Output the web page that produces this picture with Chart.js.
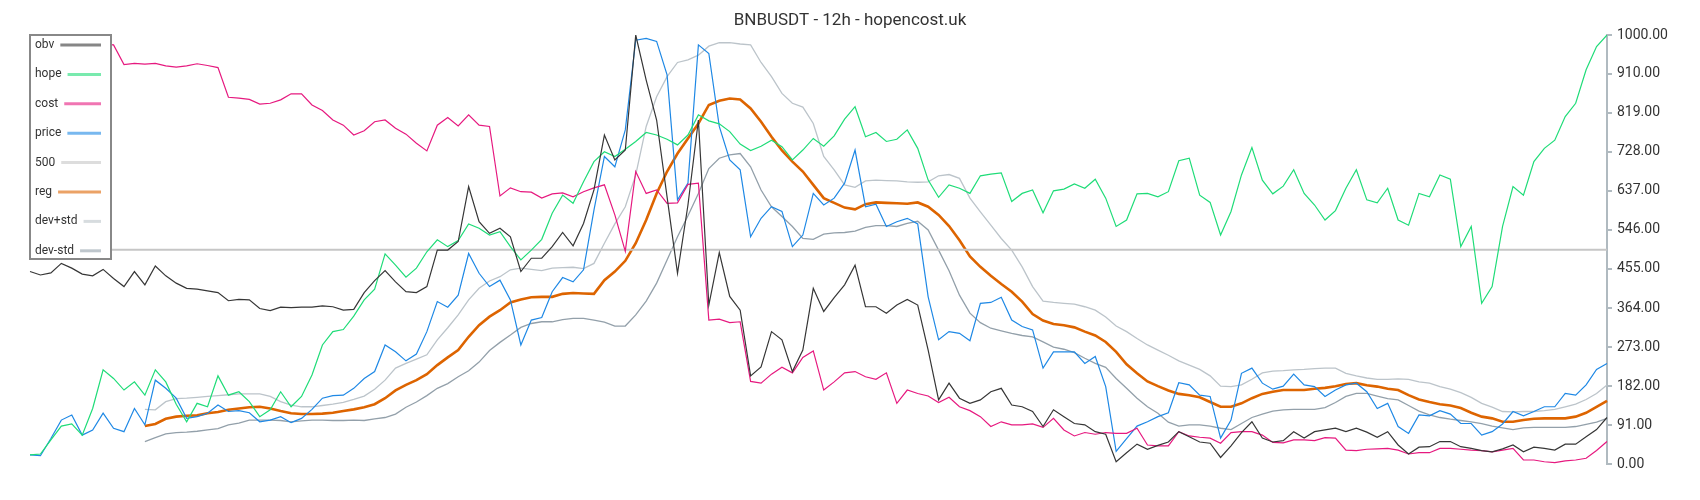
<!DOCTYPE html>
<html>
<head>
<meta charset="utf-8">
<title>BNBUSDT - 12h - hopencost.uk</title>
<script src="https://cdn.jsdelivr.net/npm/chart.js@4"></script>
<style>
  html, body { margin: 0; padding: 0; background: #fff; }
  #chartCanvas { display: block; }
</style>
</head>
<body>
<canvas id="chartCanvas" width="1700" height="500"></canvas>
<script>
// values, one sample per 12h step (152 steps)
var obv = [449,441,446,468,457,443,439,454,433,414,449,418,462,439,422,410,408,404,400,381,
  384,383,363,358,366,365,366,366,369,367,359,361,400,428,451,425,402,400,414,499,
  499,519,647,565,538,550,530,449,480,480,507,540,509,561,639,767,709,732,1000,895,
  802,623,445,604,802,371,493,391,359,206,227,309,290,216,266,410,356,388,418,464,
  367,367,352,371,384,371,266,150,189,154,142,150,169,177,138,134,123,88,127,111,
  95,92,76,70,6,27,47,35,44,52,76,64,52,49,16,43,74,99,61,52,
  55,76,61,76,80,84,76,84,75,63,76,45,24,40,41,53,53,41,37,32,
  29,36,45,29,40,37,33,47,47,64,81,109];

var hope = [22,24,57,89,94,68,130,220,200,173,192,161,220,192,140,99,142,134,206,161,
  169,146,111,127,169,134,158,208,278,309,314,345,383,408,490,464,436,457,495,523,
  507,521,560,550,534,542,507,476,499,524,585,627,608,658,705,728,717,734,752,773,
  767,757,744,767,814,800,793,775,746,731,741,755,740,709,732,759,741,765,804,833,
  763,773,752,757,779,736,662,622,651,643,631,672,676,679,612,631,639,586,637,641,
  653,643,664,620,554,569,630,631,623,635,707,713,627,610,534,589,674,738,662,630,
  648,686,631,604,569,591,643,686,616,609,643,569,557,631,623,674,664,507,554,375,
  414,554,647,627,705,736,755,810,841,919,973,1000];

var cost = [1000,995,990,985,988,984,980,978,977,931,934,932,934,928,925,928,933,929,924,855,
  853,850,839,841,849,863,863,837,824,802,790,767,777,798,802,783,769,748,730,790,
  808,788,814,790,787,625,644,635,634,620,630,632,623,635,644,651,581,496,682,631,
  639,608,609,652,655,336,338,330,332,193,189,210,226,213,249,264,173,192,213,216,
  204,198,213,142,173,165,159,144,156,134,125,111,88,99,92,92,94,86,107,80,
  66,74,70,74,72,72,84,45,43,43,76,66,63,61,49,74,76,76,68,51,
  50,57,57,55,62,61,33,32,35,36,37,33,24,27,27,37,37,35,33,32,
  29,33,37,10,10,6,4,8,10,14,32,53];

var price = [22,20,60,103,115,68,80,119,84,76,130,92,196,177,154,107,111,119,138,123,
  125,120,99,103,111,97,107,128,154,160,161,177,200,216,278,262,241,257,309,379,
  366,394,491,445,414,429,383,278,336,342,402,435,425,453,592,717,693,779,988,992,
  985,907,616,655,977,957,787,709,686,530,573,600,589,507,534,631,604,620,655,732,
  600,606,554,565,573,560,390,290,309,305,288,375,377,389,336,321,313,224,262,262,
  262,235,251,181,30,60,89,99,111,120,190,185,161,158,61,103,212,224,189,175,
  182,210,185,181,158,173,185,189,169,130,142,88,72,115,113,125,117,95,95,68,
  76,94,123,113,123,134,134,165,161,185,221,235];

var level500 = 500;

var reg = [null,null,null,null,null,null,null,null,null,null,null,
  89,94,106,111,113,114,119,122,127,130,133,134,130,124,119,117,117,118,120,
  124,128,133,140,154,172,185,196,210,231,249,266,297,324,344,359,377,384,389,390,
  390,397,399,398,397,429,449,474,515,569,631,682,724,759,794,837,847,852,850,829,
  798,763,731,705,682,651,620,609,598,594,606,610,609,608,607,610,600,581,555,522,
  484,460,439,420,402,379,350,335,327,324,319,309,300,285,262,233,212,193,182,172,
  164,161,156,145,134,134,142,154,164,169,173,173,173,176,178,182,187,189,184,181,
  176,173,161,151,145,140,137,131,120,111,107,99,99,103,106,107,107,107,111,120,
  134,148];

var devUp = [null,null,null,null,null,null,null,null,null,null,null,
  128,127,146,153,154,156,158,160,162,164,164,164,158,146,138,134,134,137,140,
  144,151,159,175,196,224,235,245,255,290,318,348,383,410,427,437,453,457,454,451,
  457,458,459,456,468,515,560,600,674,787,856,903,936,942,953,974,982,982,979,977,
  936,903,864,841,832,794,717,686,651,645,660,662,661,660,658,657,658,672,675,666,
  620,588,557,526,499,460,414,380,377,375,373,367,359,343,322,309,293,278,266,254,
  241,231,221,206,182,181,185,198,213,217,218,220,221,223,224,224,212,206,201,198,
  198,199,198,192,189,181,175,167,156,142,133,123,122,123,123,125,128,134,140,151,
  165,185];

var devDn = [null,null,null,null,null,null,null,null,null,null,null,
  53,62,71,74,75,77,80,83,92,96,103,103,103,102,99,101,103,103,102,
  102,103,102,106,109,117,133,145,160,177,188,204,218,238,265,284,301,319,328,332,
  332,337,340,340,336,331,322,322,348,380,422,476,530,579,631,689,713,721,724,693,
  639,600,577,554,526,524,536,539,540,543,552,556,556,554,561,566,546,499,451,394,
  352,330,317,311,305,300,297,285,273,268,260,247,235,226,200,177,154,134,119,98,
  89,92,92,89,84,81,95,109,117,124,127,128,128,128,132,144,158,165,165,159,
  153,150,137,124,115,109,105,102,99,95,89,85,81,85,86,86,86,86,88,93,
  98,107];

var yTicks = [0, 91, 182, 273, 364, 455, 546, 637, 728, 819, 910, 1000];
var seriesNames = ['obv', 'hope', 'cost', 'price', '500', 'reg', 'dev+std', 'dev-std'];
var seriesColors = ['#363636', '#1fdc78', '#e6197f', '#1e88e5', '#c6c6c6', '#dd6400', '#bcc4ca', '#93a0aa'];
var seriesWidths = [1.2, 1.2, 1.2, 1.2, 2, 2.6, 1.3, 1.3];

var labels = obv.map(function (v, i) { return i; });
var seriesData = [obv, hope, cost, price, labels.map(function () { return level500; }), reg, devUp, devDn];

// legend box drawn in the top left corner, label first then line sample
var boxLegend = {
  id: 'boxLegend',
  afterDraw: function (chart) {
    var ctx = chart.ctx;
    var left = 30, top = 35, width = 81, height = 224, rowGap = 29.4, lineEnd = 101;
    ctx.save();
    ctx.fillStyle = '#fff';
    ctx.fillRect(left, top, width, height);
    ctx.strokeStyle = '#888';
    ctx.lineWidth = 2;
    ctx.strokeRect(left, top, width, height);
    ctx.font = '12px Roboto';
    ctx.textBaseline = 'middle';
    seriesNames.forEach(function (name, i) {
      var y = 45 + i * rowGap;
      ctx.globalAlpha = 1;
      ctx.fillStyle = '#333';
      ctx.fillText(name, 35, y);
      var start = 35 + ctx.measureText(name).width + 6;
      ctx.globalAlpha = 0.6;
      ctx.strokeStyle = seriesColors[i];
      ctx.lineWidth = 3;
      ctx.beginPath();
      ctx.moveTo(start, y);
      ctx.lineTo(lineEnd, y);
      ctx.stroke();
    });
    ctx.restore();
  }
};

var ctx = document.getElementById('chartCanvas').getContext('2d');
var chart = new Chart(ctx, {
  type: 'line',
  data: {
    labels: labels,
    datasets: seriesNames.map(function (name, i) {
      return {
        label: name,
        data: seriesData[i],
        borderColor: seriesColors[i],
        backgroundColor: seriesColors[i],
        borderWidth: seriesWidths[i],
        pointRadius: 0,
        tension: 0,
        fill: false
      };
    })
  },
  options: {
    responsive: false,
    animation: false,
    devicePixelRatio: 1,
    // equal side padding keeps the title centred on the page
    layout: { padding: { left: 30, right: 30, top: 0, bottom: 35.7 } },
    plugins: {
      legend: { display: false },
      tooltip: { enabled: false },
      title: {
        display: true,
        text: 'BNBUSDT - 12h - hopencost.uk',
        color: '#333',
        font: { family: 'Roboto', size: 17, weight: 'normal' },
        padding: { top: 11, bottom: 3.6 }
      }
    },
    scales: {
      x: { display: false },
      y: {
        position: 'right',
        min: 0,
        max: 1000,
        afterBuildTicks: function (scale) {
          scale.ticks = yTicks.map(function (v) { return { value: v }; });
        },
        afterFit: function (scale) { scale.width = 63; },
        grid: { drawOnChartArea: false, color: '#b0bac0', lineWidth: 2, tickLength: 5 },
        border: { color: '#b0bac0', width: 2 },
        ticks: {
          color: '#333',
          padding: 5,
          font: { family: 'Roboto', size: 14 },
          callback: function (v) { return Number(v).toFixed(2); }
        }
      }
    }
  },
  plugins: [boxLegend]
});
</script>
</body>
</html>
